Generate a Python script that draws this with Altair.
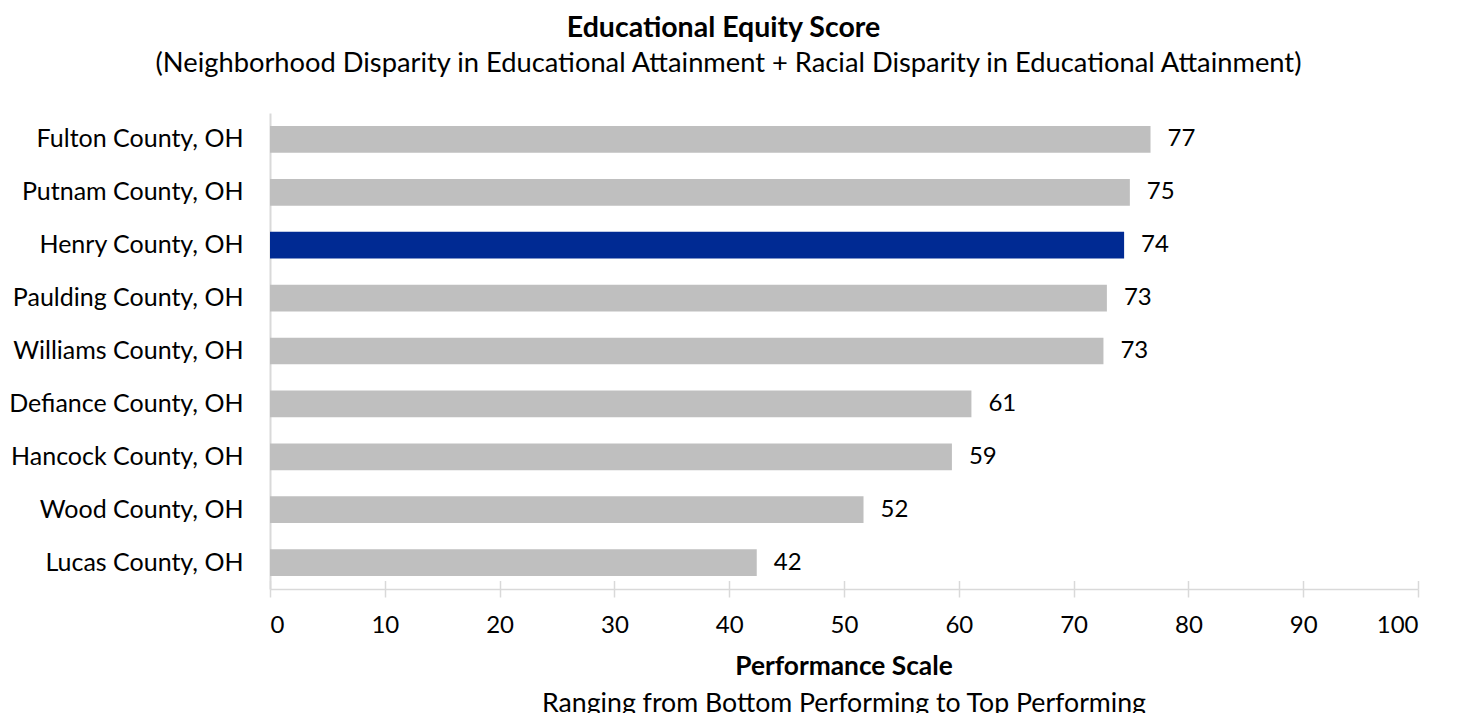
import altair as alt
import pandas as pd

counties = [
    "Fulton County, OH",
    "Putnam County, OH",
    "Henry County, OH",
    "Paulding County, OH",
    "Williams County, OH",
    "Defiance County, OH",
    "Hancock County, OH",
    "Wood County, OH",
    "Lucas County, OH",
]
scores = [76.7, 74.9, 74.4, 72.9, 72.6, 61.1, 59.4, 51.7, 42.4]
x_ticks = [0, 10, 20, 30, 40, 50, 60, 70, 80, 90, 100]
highlight = "Henry County, OH"

title_text = "Educational Equity Score"
subtitle_text = "(Neighborhood Disparity in Educational Attainment + Racial Disparity in Educational Attainment)"
x_title_text = "Performance Scale"
x_subtitle_text = "Ranging from Bottom Performing to Top Performing"

df = pd.DataFrame({"county": counties, "score": scores})
tick_df = pd.DataFrame({"t": x_ticks})

W, H = 1148, 476
FONT = "Lato"
GRID = "#D9D9D9"
TXT = "#000000"

x_enc = alt.X(
    "score:Q",
    scale=alt.Scale(domain=[0, 100], nice=False, zero=True),
    axis=alt.Axis(
        values=x_ticks, format="d", title=None, grid=False,
        domainColor=GRID, domainWidth=1.5, tickColor=GRID, tickWidth=1.5,
        tickSize=8, labelFont=FONT, labelFontSize=24, labelColor=TXT,
        labelPadding=16,
    ),
)
y_enc = alt.Y(
    "county:N", sort=counties,
    scale=alt.Scale(paddingInner=0.495, paddingOuter=0.2475),
    axis=alt.Axis(
        title=None, ticks=False, domainColor=GRID, domainWidth=2,
        labelFont=FONT, labelFontSize=25, labelColor=TXT, labelPadding=27,
        labelLimit=400,
    ),
)

bars = alt.Chart(df).mark_bar().encode(
    x=x_enc,
    y=y_enc,
    color=alt.condition(alt.datum.county == highlight, alt.value("#002A93"), alt.value("#BFBFBF")),
)

values = alt.Chart(df).mark_text(
    align="left", baseline="middle", dx=17, font=FONT, fontSize=24, color=TXT
).encode(
    x=alt.X("score:Q", axis=None),
    y=alt.Y("county:N", sort=counties),
    text=alt.Text("score:Q", format=".0f"),
)

upticks = alt.Chart(tick_df).mark_point(opacity=0).encode(
    x=alt.X(
        "t:Q",
        axis=alt.Axis(
            orient="top", offset=-H, values=x_ticks, labels=False, domain=False,
            tickSize=8.5, tickColor=GRID, tickWidth=1.5, title=None, grid=False,
        ),
    ),
    y=alt.value(H),
)


def text_layer(txt, x, y, size, weight="normal"):
    return alt.Chart(pd.DataFrame({"txt": [txt]})).mark_text(
        align="center", baseline="alphabetic", font=FONT, fontSize=size,
        fontWeight=weight, color=TXT,
    ).encode(text="txt:N", x=alt.value(x), y=alt.value(y))


title = text_layer(title_text, 453.5, -76, 28.5, "bold")
subtitle = text_layer(subtitle_text, 458.5, -41.3, 27.3)
xtitle = text_layer(x_title_text, 574, 562, 26.3, "bold")
xsub = text_layer(x_subtitle_text, 574, 599, 26.7)

chart = (
    alt.layer(bars, values, upticks, title, subtitle, xtitle, xsub)
    .resolve_axis(x="independent")
    .properties(
        width=W, height=H,
        padding={"left": 262, "top": 105, "right": 25, "bottom": 124},
        autosize=alt.AutoSizeParams(type="none"),
    )
    .configure_view(stroke=None)
)

chart.save("out.html", embed_options={"renderer": "svg", "actions": False})
